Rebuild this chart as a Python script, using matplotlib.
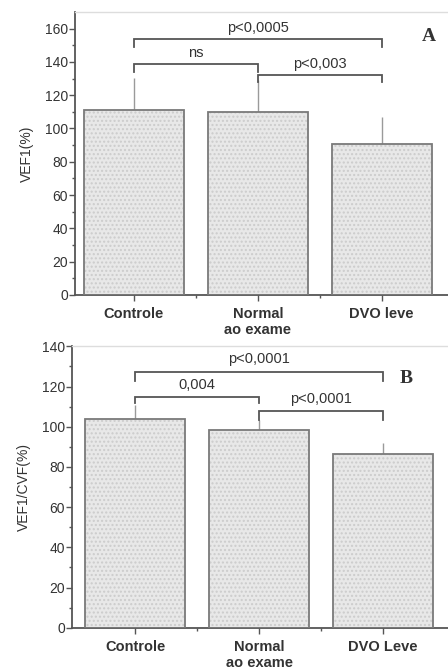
import matplotlib
matplotlib.use("Agg")
import matplotlib.pyplot as plt
import numpy as np

plt.rcParams['font.family'] = ['Liberation Sans', 'DejaVu Sans']

categories_a = ["Controle", "Normal\nao exame", "DVO leve"]
means_a = [111, 110, 90.5]
err_a = [19.5, 19, 16.5]
categories_b = ["Controle", "Normal\nao exame", "DVO Leve"]
means_b = [104, 98.5, 86.5]
err_b = [7, 5, 5.5]

# brackets: (i, j, height, leg_left, leg_right, label)
brackets_a = [(0, 2, 154, 149, 149, "p<0,0005"),
              (0, 1, 138.5, 134, 134, "ns"),
              (1, 2, 132, 128, 128, "p<0,003")]
brackets_b = [(0, 2, 127.5, 123, 123, "p<0,0001"),
              (0, 1, 115, 112, 112, "0,004"),
              (1, 2, 108, 103.5, 103.5, "p<0,0001")]

fig = plt.figure(figsize=(4.48, 6.70), dpi=100)
ax_a = fig.add_axes([0.167, 0.560, 0.840, 0.422])
ax_b = fig.add_axes([0.161, 0.063, 0.846, 0.420])

dark = '#555555'
edge = '#7a7a7a'


def draw(ax, cats, means, errs, brackets, ymax, ylabel, letter, letter_xy, xlim, yticks):
    x = np.arange(len(cats))
    ax.bar(x, means, width=0.81, color='#e8e8e8', edgecolor='#cccccc', hatch='....',
           linewidth=0, zorder=2)
    ax.bar(x, means, width=0.81, fill=False, edgecolor=edge, linewidth=1.3, zorder=3)
    ax.errorbar(x, means, yerr=[np.zeros(len(errs)), errs], fmt='none',
                ecolor='#9a9a9a', elinewidth=1.0, capsize=0, zorder=1)
    for i, j, h, ll, lr, lab in brackets:
        ax.plot([x[i], x[i], x[j], x[j]], [ll, h, h, lr], color=dark, lw=1.3,
                zorder=4, solid_joinstyle='miter')
        ax.text((x[i] + x[j]) / 2, h + 2.5, lab, ha='center', va='bottom',
                fontsize=10.5, color='#333333', zorder=5)
    ax.set_xlim(*xlim)
    ax.set_ylim(0, ymax)
    ax.set_yticks(yticks)
    ax.set_yticks(np.arange(10, yticks[-1] + 1, 20), minor=True)
    ax.set_xticks(x)
    ax.set_xticklabels(cats, fontsize=10.5, color='#333333', fontweight='semibold')
    ax.set_xticks([0.5, 1.5], minor=True)
    ax.tick_params(axis='y', which='major', length=4, width=1, color=dark,
                   labelsize=10, labelcolor='#333333', pad=1)
    ax.tick_params(axis='y', which='minor', length=2.5, width=1, color=dark)
    ax.tick_params(axis='x', which='major', length=4, width=1, color=dark, pad=5)
    ax.tick_params(axis='x', which='minor', length=2, width=1, color=dark)
    for s in ['left', 'bottom']:
        ax.spines[s].set_color(dark)
        ax.spines[s].set_linewidth(1.3)
    for s in ['top', 'right']:
        ax.spines[s].set_color('#dddddd')
        ax.spines[s].set_linewidth(1.0)
    ax.set_ylabel(ylabel, fontsize=10, color='#333333', labelpad=8)
    ax.text(letter_xy[0], letter_xy[1], letter, transform=ax.transAxes,
            fontsize=14, fontweight='bold', family='Liberation Serif', color='#333333',
            ha='center', va='center')


draw(ax_a, categories_a, means_a, err_a, brackets_a, 170, "VEF1(%)", "A",
     (0.94, 0.915), (-0.476, 2.56), [0, 20, 40, 60, 80, 100, 120, 140, 160])
draw(ax_b, categories_b, means_b, err_b, brackets_b, 140, "VEF1/CVF(%)", "B",
     (0.88, 0.885), (-0.508, 2.55), [0, 20, 40, 60, 80, 100, 120, 140])

fig.savefig("out.png", dpi=100, facecolor='white')
